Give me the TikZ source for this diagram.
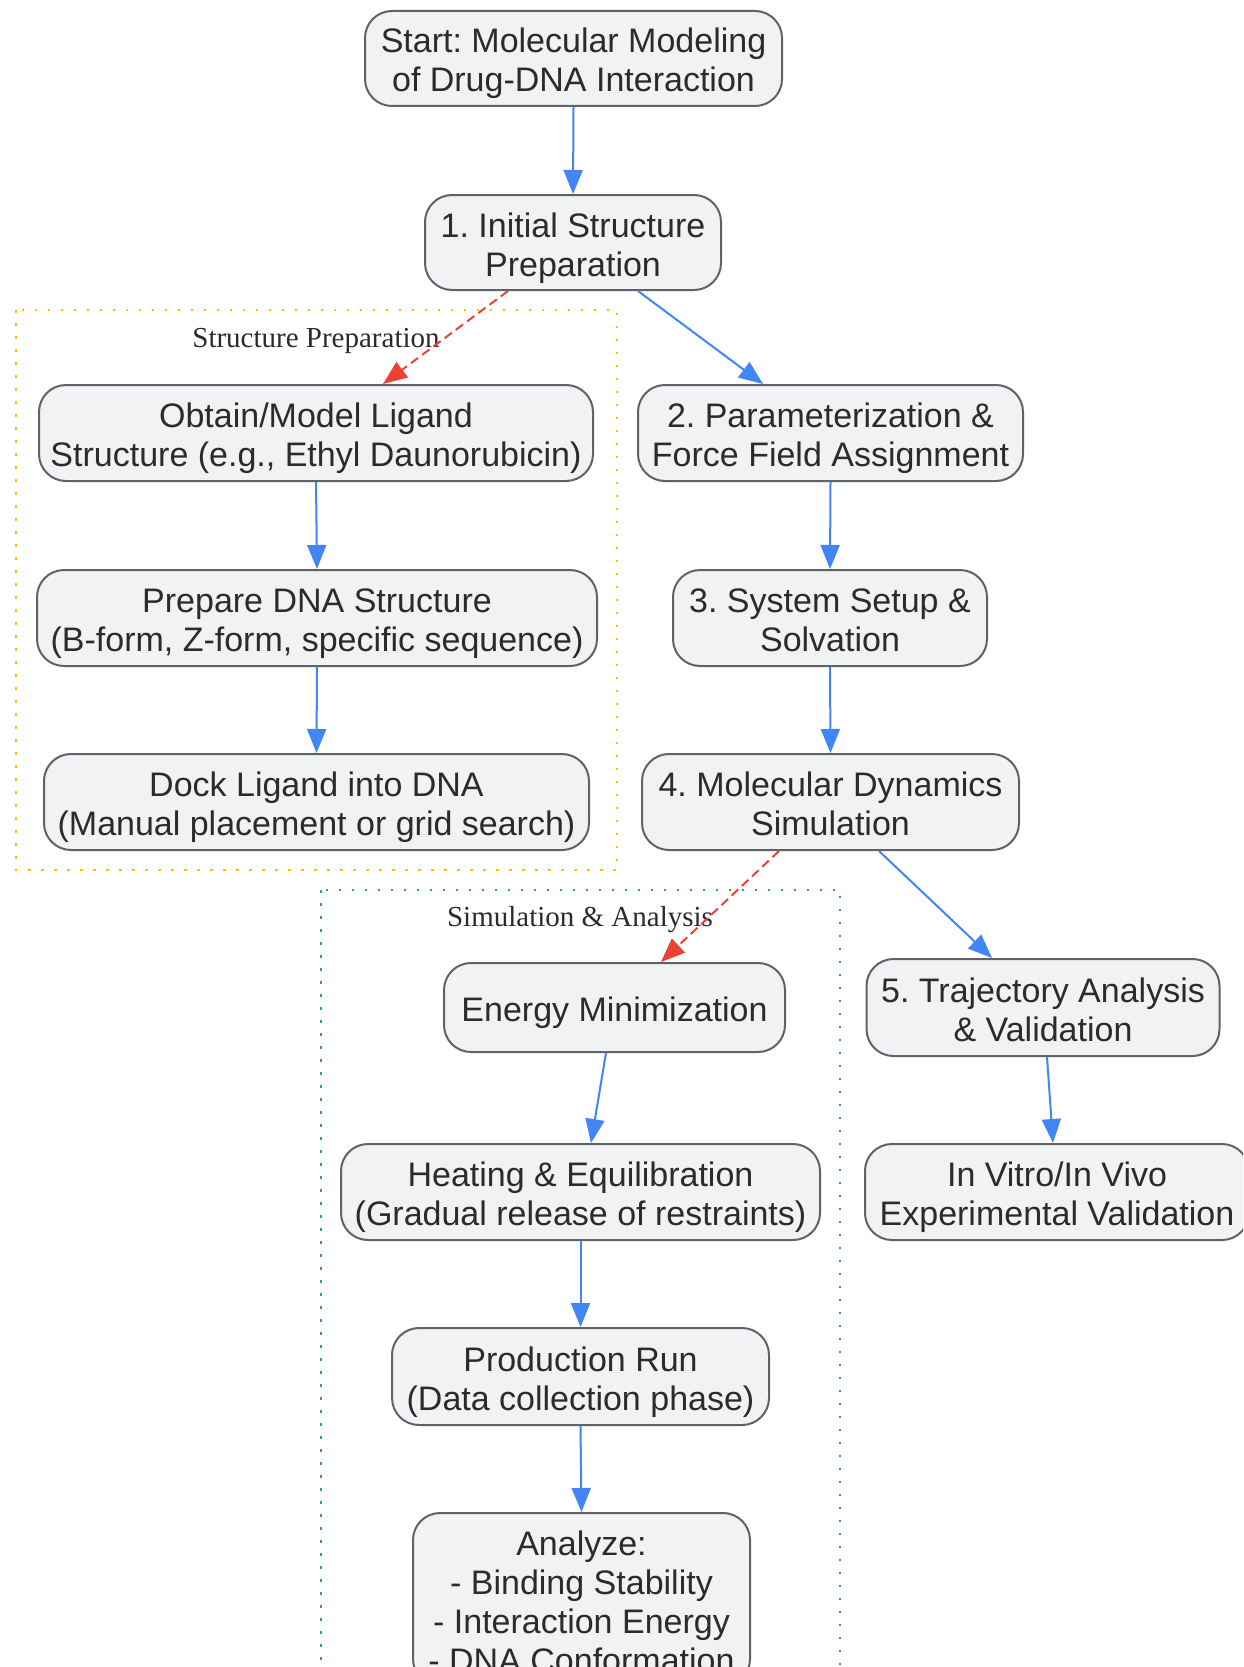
\documentclass[tikz,border=0pt]{standalone}
\usepackage{fontspec}
\setmainfont{Liberation Sans}
\newfontfamily\serifl{Liberation Serif}
\usetikzlibrary{arrows.meta,calc}
\definecolor{nodefill}{HTML}{F1F2F4}
\definecolor{nodeline}{HTML}{5F6368}
\definecolor{txt}{HTML}{2B2B2B}
\definecolor{arrblue}{HTML}{4285F4}
\definecolor{arrred}{HTML}{EA4335}
\definecolor{clorange}{HTML}{FBBC04}
\definecolor{clgreen}{HTML}{34A853}
\newcommand\Tst{\rule{0pt}{37pt}}
\newcommand\Bst{\rule[-9pt]{0pt}{9pt}}
\frenchspacing
\begin{document}
\begin{tikzpicture}[x=1pt,y=-1pt,
  box/.style={draw=nodeline, fill=nodefill, line width=2pt, rounded corners=27pt, align=center, inner sep=0pt, text=txt, font=\fontsize{34}{39}\selectfont},
  flow/.style={draw=arrblue, line width=2pt, -{Triangle[length=24pt,width=19pt]}},
  dflow/.style={draw=arrred, line width=2pt, dash pattern=on 9pt off 5pt, -{Triangle[length=24pt,width=19pt]}},
  cluster/.style={line width=2.5pt, dash pattern=on 2.5pt off 10.5pt},
  clabel/.style={font=\serifl\fontsize{29}{33}\selectfont, text=txt, inner sep=0pt}]
\fill[white] (0,0) rectangle (1243,1667);
\useasboundingbox (0,0) rectangle (1243,1667);
\clip (0,0) rectangle (1243,1667);

% clusters
\draw[cluster, draw=clorange] (16,310) rectangle (617,870);
\draw[cluster, draw=clgreen] (321,890) rectangle (840,1720);
\node[clabel] (lab1) at (316,341) {Structure Preparation};
\node[clabel] (lab2) at (580,920) {Simulation \& Analysis};

% nodes
\node[box, minimum width=417pt, minimum height=95pt] (start) at (573.5,58.5) {\Tst Start: Molecular Modeling\\of Drug-DNA Interaction\Bst};
\node[box, minimum width=296pt, minimum height=95pt] (n1) at (573,242.5) {\Tst 1. Initial Structure\\Preparation\Bst};
\node[box, minimum width=554pt, minimum height=96pt] (obtain) at (316,433) {\Tst Obtain/Model Ligand\\Structure (e.g., Ethyl Daunorubicin)\Bst};
\node[box, minimum width=385pt, minimum height=96pt] (param) at (830.5,433) {\Tst 2. Parameterization \&\\Force Field Assignment\Bst};
\node[box, minimum width=560pt, minimum height=96pt] (prep) at (317,618) {\Tst Prepare DNA Structure\\(B-form, Z-form, specific sequence)\Bst};
\node[box, minimum width=314pt, minimum height=96pt] (sys) at (830,618) {\Tst 3. System Setup \&\\Solvation\Bst};
\node[box, minimum width=545pt, minimum height=96pt] (dock) at (316.5,802) {\Tst Dock Ligand into DNA\\(Manual placement or grid search)\Bst};
\node[box, minimum width=377pt, minimum height=96pt] (md) at (830.5,802) {\Tst 4. Molecular Dynamics\\Simulation\Bst};
\node[box, minimum width=341pt, minimum height=89pt] (em) at (614.5,1007.5) {\Tst Energy Minimization\Bst};
\node[box, minimum width=353pt, minimum height=97pt] (traj) at (1043,1007.5) {\Tst 5. Trajectory Analysis\\\& Validation\Bst};
\node[box, minimum width=479pt, minimum height=96pt] (heat) at (580.5,1192) {\Tst Heating \& Equilibration\\(Gradual release of restraints)\Bst};
\node[box, minimum width=384pt, minimum height=96pt] (invitro) at (1057,1192) {\Tst In Vitro/In Vivo\\Experimental Validation\Bst};
\node[box, minimum width=377pt, minimum height=97pt] (prod) at (580.5,1376.5) {\Tst Production Run\\(Data collection phase)\Bst};
\node[box, minimum width=337pt, minimum height=173pt] (analyze) at (581.5,1599.5) {\Tst Analyze:\\- Binding Stability\\- Interaction Energy\\- DNA Conformation\Bst};

% edges
\draw[flow] (start.south) -- (n1.north);
\draw[dflow] ([xshift=-65pt]n1.south) -- ([xshift=67pt]obtain.north);
\draw[flow] ([xshift=65pt]n1.south) -- ([xshift=-67.5pt]param.north);
\draw[flow] (obtain.south) -- (prep.north);
\draw[flow] (prep.south) -- (dock.north);
\draw[flow] (param.south) -- (sys.north);
\draw[flow] (sys.south) -- (md.north);
\draw[dflow] ([xshift=-51.5pt]md.south) -- ([xshift=46.5pt]em.north);
\draw[flow] ([xshift=48.5pt]md.south) -- ([xshift=-51pt]traj.north);
\draw[flow] ([xshift=-8.5pt]em.south) -- ([xshift=10.5pt]heat.north);
\draw[flow] ([xshift=4pt]traj.south) -- ([xshift=-4pt]invitro.north);
\draw[flow] (heat.south) -- (prod.north);
\draw[flow] (prod.south) -- (analyze.north);
\end{tikzpicture}
\end{document}
